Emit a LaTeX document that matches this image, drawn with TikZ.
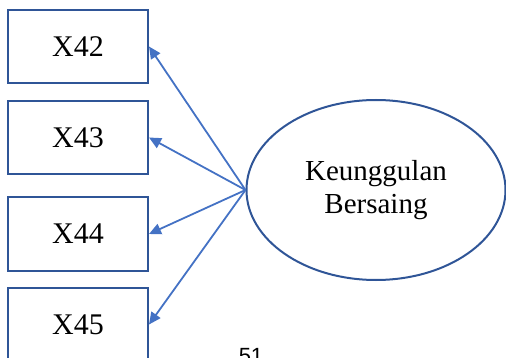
\documentclass[tikz,border=0pt]{standalone}
\usepackage{fontspec}
\setmainfont{Liberation Serif}
\newfontfamily\pagenumfont{Liberation Sans}
\usetikzlibrary{arrows.meta,shapes.geometric}
\definecolor{boxblue}{HTML}{2F5597}
\definecolor{arrowblue}{HTML}{4472C4}
\tikzset{
  indicator/.style={draw=boxblue, line width=2pt, minimum width=140pt, minimum height=73pt,
    inner sep=0pt, font=\fontsize{30}{34}\selectfont},
  construct/.style={ellipse, draw=boxblue, line width=2pt, minimum width=259pt, minimum height=180pt,
    inner sep=0pt, align=center, font=\fontsize{29}{33}\selectfont},
  loading/.style={draw=arrowblue, line width=1.8pt, -{Triangle[length=12pt,width=11pt]}}
}
\begin{document}
\begin{tikzpicture}[x=1pt,y=-1pt]
  \useasboundingbox (0,0) rectangle (506,358);
  \clip (0,0) rectangle (506,358);
  \node[indicator] (x42) at (78,46.5) {X42};
  \node[indicator] (x43) at (78,137.5) {X43};
  \node[indicator] (x44) at (78,234) {X44};
  \node[indicator] (x45) at (78,324.5) {X45};
  \node[construct] (kb) at (376,190) {Keunggulan\\Bersaing};
  \coordinate (src) at (kb.west);
  \draw[loading] (src) -- (x42.east);
  \draw[loading] (src) -- (x43.east);
  \draw[loading] (src) -- (x44.east);
  \draw[loading] (src) -- (x45.east);
  \node[anchor=base, font=\pagenumfont\fontsize{22}{26}\selectfont, inner sep=0pt] (pg) at (251,363) {51};
\end{tikzpicture}
\end{document}
